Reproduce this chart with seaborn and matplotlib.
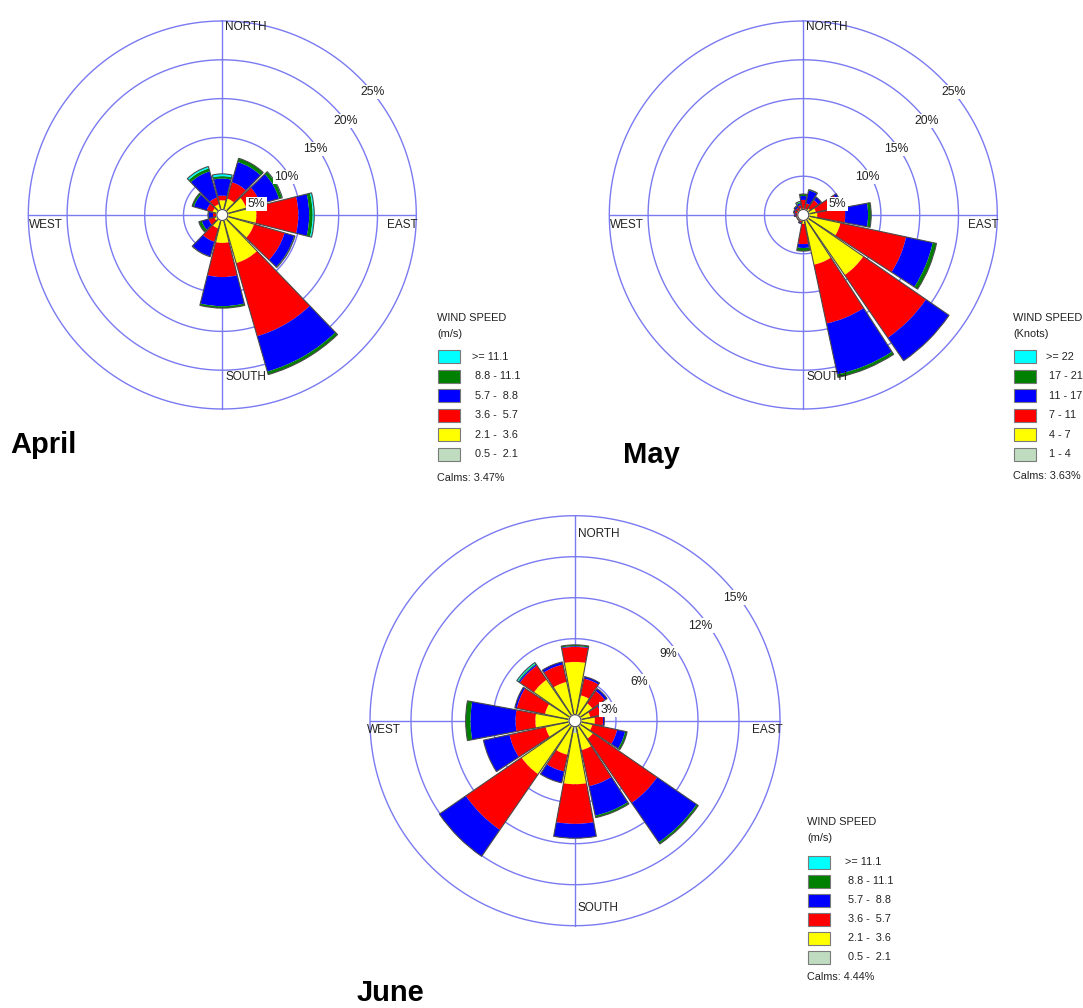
import numpy as np
import matplotlib
matplotlib.use("Agg")
import matplotlib.pyplot as plt
from matplotlib.patches import Rectangle
import seaborn as sns

sns.set_theme(style="white")
plt.rcParams['font.family'] = ['Liberation Sans', 'DejaVu Sans']

W, H = 1083, 1008

# ---------------- data ----------------
# April: 12 direction sectors (degrees from north, clockwise); frequency (%) per speed class
april_dirs = [0, 30, 60, 90, 120, 150, 180, 210, 240, 270, 300, 330]
april_0_5_2_1 = [0.3, 0.3, 0.3, 0.3, 0.3, 0.3, 0.3, 0.3, 0.3, 0.3, 0.3, 0.3]
april_2_1_3_6 = [1.6, 1.9, 2.9, 4.1, 3.95, 6.15, 3.3, 1.5, 0.75, 0.5, 1.0, 1.15]
april_3_6_5_7 = [0.6, 2.2, 1.9, 5.4, 4.1, 9.8, 4.4, 1.8, 0.8, 0.4, 0.8, 0.9]
april_5_7_8_8 = [2.2, 2.7, 2.5, 1.4, 1.3, 4.75, 3.75, 1.95, 0.9, 0.6, 1.7, 3.5]
april_8_8_11_1 = [0.3, 0.5, 0.4, 0.45, 0.1, 0.4, 0.25, 0.05, 0.4, 0.05, 0.25, 0.4]
april_ge_11_1 = [0.3, 0.0, 0.05, 0.2, 0.0, 0.0, 0.0, 0.0, 0.0, 0.0, 0.0, 0.25]
april_calms = 3.47

# May: 16 direction sectors
may_dirs = [0, 22.5, 45, 67.5, 90, 112.5, 135, 157.5,
            180, 202.5, 225, 247.5, 270, 292.5, 315, 337.5]
may_1_4 = [0.25] * 16
may_4_7 = [0.4, 0.5, 0.8, 1.4, 1.55, 4.65, 9.15, 6.3, 0.9, 0.5, 0.4, 0.4, 0.5, 0.5, 0.5, 0.65]
may_7_11 = [1.3, 0.8, 1.3, 3.0, 3.6, 8.65, 9.8, 7.75, 2.6, 0.25, 0.25, 0.25, 0.25, 0.4, 0.4, 0.4]
may_11_17 = [0.5, 1.7, 0.5, 0.4, 2.95, 3.5, 3.6, 6.7, 0.5, 0.15, 0.0, 0.0, 0.15, 0.15, 0.25, 0.25]
may_17_21 = [0.25, 0.1, 0.0, 0.0, 0.4, 0.5, 0.0, 0.4, 0.4, 0.0, 0.0, 0.0, 0.0, 0.0, 0.05, 0.15]
may_ge_22 = [0.0, 0.0, 0.0, 0.0, 0.0, 0.0, 0.0, 0.0, 0.0, 0.0, 0.0, 0.0, 0.0, 0.0, 0.0, 0.1]
may_calms = 3.63

# June: 16 direction sectors
june_dirs = may_dirs
june_0_5_2_1 = [0.3, 0.3, 0.3, 0.3, 0.3, 0.3, 0.3, 0.3, 0.9, 0.3, 0.3, 0.3, 0.3, 0.3, 0.3, 0.3]
june_2_1_3_6 = [4.0, 1.6, 1.25, 0.85, 1.15, 1.0, 1.3, 1.9, 3.75, 2.25, 4.45, 1.9, 2.6, 1.95, 3.35, 2.6]
june_3_6_5_7 = [1.1, 1.25, 1.1, 0.8, 0.6, 1.85, 5.7, 2.7, 2.9, 1.25, 4.95, 2.7, 1.45, 2.1, 1.25, 1.3]
june_5_7_8_8 = [0.05, 0.15, 0.2, 0.1, 0.1, 0.6, 3.5, 2.2, 1.05, 0.85, 2.35, 1.95, 3.3, 0.15, 0.1, 0.2]
june_8_8_11_1 = [0.1, 0.0, 0.0, 0.0, 0.0, 0.15, 0.15, 0.15, 0.0, 0.0, 0.0, 0.0, 0.35, 0.0, 0.07, 0.0]
june_ge_11_1 = [0.0, 0.0, 0.0, 0.0, 0.0, 0.0, 0.0, 0.0, 0.0, 0.0, 0.0, 0.0, 0.0, 0.0, 0.1, 0.0]
june_calms = 4.44

ms_labels = [">= 11.1", "8.8 - 11.1", "5.7 -  8.8", "3.6 -  5.7", "2.1 -  3.6", "0.5 -  2.1"]
knot_labels = [">= 22", "17 - 21", "11 - 17", "7 - 11", "4 - 7", "1 - 4"]

april_rings = [5, 10, 15, 20, 25]
may_rings = [5, 10, 15, 20, 25]
june_rings = [3, 6, 9, 12, 15]

# ---------------- style ----------------
SPEED_COLORS = sns.color_palette(["#c0dcc0", "#ffff00", "#ff0000", "#0000ff", "#008000", "#00ffff"])
RING = "#7a7af2"
EDGE = "#4a4a4a"
TXT = "#222222"


def fx(x):
    return x / W


def fy(y):
    return 1 - y / H


def draw_rose(fig, center, radius_px, rings, dirs_deg, bands, label_offsets,
              compass_offsets, hole_px):
    cx, cy = center
    rmax = rings[-1]
    rect = [(cx - radius_px) / W, 1 - (cy + radius_px) / H,
            2 * radius_px / W, 2 * radius_px / H]
    ax = fig.add_axes(rect, projection='polar')
    ax.set_theta_zero_location('N')
    ax.set_theta_direction(-1)
    ax.axis('off')
    ax.set_ylim(0, rmax)

    t = np.linspace(0, 2 * np.pi, 721)
    for r in rings:
        ax.plot(t, np.full_like(t, r), color=RING, lw=1.0, zorder=1, clip_on=False)
    for a in (0, 90, 180, 270):
        ax.plot([np.radians(a)] * 2, [0, rmax], color=RING, lw=1.0, zorder=1, clip_on=False)

    theta = np.radians(dirs_deg)
    n = len(dirs_deg)
    width = 2 * np.pi / n * 0.93
    bottom = np.zeros(n)
    for vals, col in zip(bands, SPEED_COLORS):
        vals = np.asarray(vals, dtype=float)
        ax.bar(theta, vals, width=width, bottom=bottom, color=col,
               edgecolor='none', linewidth=0, zorder=2)
        bottom += vals
    ax.bar(theta, bottom, width=width, bottom=0, fill=False,
           edgecolor=EDGE, linewidth=0.8, zorder=3)

    # calms circle in the middle
    hole = hole_px / radius_px * rmax
    ax.fill(t, np.full_like(t, hole), color='white', zorder=4)
    ax.plot(t, np.full_like(t, hole), color=EDGE, lw=0.8, zorder=5)

    # ring labels
    for (dx, dy), r in zip(label_offsets, rings):
        ang = np.arctan2(dx, -dy)
        rr = np.hypot(dx, dy) / radius_px * rmax
        ax.text(ang, rr, f"{r}%", ha='center', va='center', fontsize=8.8,
                color=TXT, zorder=6,
                bbox=dict(boxstyle='square,pad=0.12', fc='white', ec='none'))

    # compass labels
    (nx, ny), (sx, sy), (wx, wy), (ex, ey) = compass_offsets
    fig.text(fx(cx + nx), fy(cy + ny), "NORTH", fontsize=8.5, color=TXT, ha='left', va='center')
    fig.text(fx(cx + sx), fy(cy + sy), "SOUTH", fontsize=8.5, color=TXT, ha='left', va='center')
    fig.text(fx(cx + wx), fy(cy + wy), "WEST", fontsize=8.5, color=TXT, ha='left', va='center')
    fig.text(fx(cx + ex), fy(cy + ey), "EAST", fontsize=8.5, color=TXT, ha='right', va='center')
    return ax


def draw_legend(fig, x0, y_title, unit, labels, y_first, step, x_label, calms, y_calms):
    fig.text(fx(x0), fy(y_title), "WIND SPEED", fontsize=7.9, color=TXT, va='center', ha='left')
    fig.text(fx(x0), fy(y_title + 16), unit, fontsize=7.9, color=TXT, va='center', ha='left')
    cols = list(SPEED_COLORS)[::-1]
    for i, (lab, col) in enumerate(zip(labels, cols)):
        yc = y_first + i * step
        fig.add_artist(Rectangle((fx(x0 + 1), fy(yc + 6.5)), 22 / W, 13 / H,
                                 transform=fig.transFigure, facecolor=col,
                                 edgecolor='#7a7a7a', linewidth=0.8))
        xl = x_label - 3 if i == 0 else x_label
        fig.text(fx(xl), fy(yc), lab, fontsize=7.8, color=TXT, va='center', ha='left')
    fig.text(fx(x0), fy(y_calms), f"Calms: {calms:.2f}%", fontsize=7.8, color=TXT,
             va='center', ha='left')


fig = plt.figure(figsize=(W / 100, H / 100), dpi=100, facecolor='white')

april_bands = [april_0_5_2_1, april_2_1_3_6, april_3_6_5_7, april_5_7_8_8,
               april_8_8_11_1, april_ge_11_1]
may_bands = [may_1_4, may_4_7, may_7_11, may_11_17, may_17_21, may_ge_22]
june_bands = [june_0_5_2_1, june_2_1_3_6, june_3_6_5_7, june_5_7_8_8,
              june_8_8_11_1, june_ge_11_1]

top_offsets = [(34, -11), (64, -38), (93, -66), (123, -94), (150, -123)]
top_compass = [(3, -188), (3, 162), (-193, 10), (195, 10)]

draw_rose(fig, (222.3, 215), 194, april_rings, april_dirs, april_bands,
          top_offsets, top_compass, 5.5)
draw_rose(fig, (803.3, 215), 194, may_rings, may_dirs, may_bands,
          top_offsets, top_compass, 5.5)
draw_rose(fig, (575, 720.7), 205, june_rings, june_dirs, june_bands,
          [(34, -11), (64, -39), (93, -67), (125, -95), (160, -123)],
          [(3, -187), (3, 187), (-208, 9), (208, 9)], 6)

draw_legend(fig, 437, 318, "(m/s)", ms_labels, 357, 19.4, 475, april_calms, 478)
draw_legend(fig, 1013, 318, "(Knots)", knot_labels, 357, 19.4, 1049, may_calms, 476)
draw_legend(fig, 807, 822, "(m/s)", ms_labels, 862, 19.1, 848, june_calms, 977)

fig.text(fx(10), fy(445), "April", fontsize=21, fontweight='bold', color='black', va='center', ha='left')
fig.text(fx(623), fy(455), "May", fontsize=21, fontweight='bold', color='black', va='center', ha='left')
fig.text(fx(357), fy(993), "June", fontsize=21, fontweight='bold', color='black', va='center', ha='left')

fig.savefig("out.png", dpi=100, facecolor='white')
